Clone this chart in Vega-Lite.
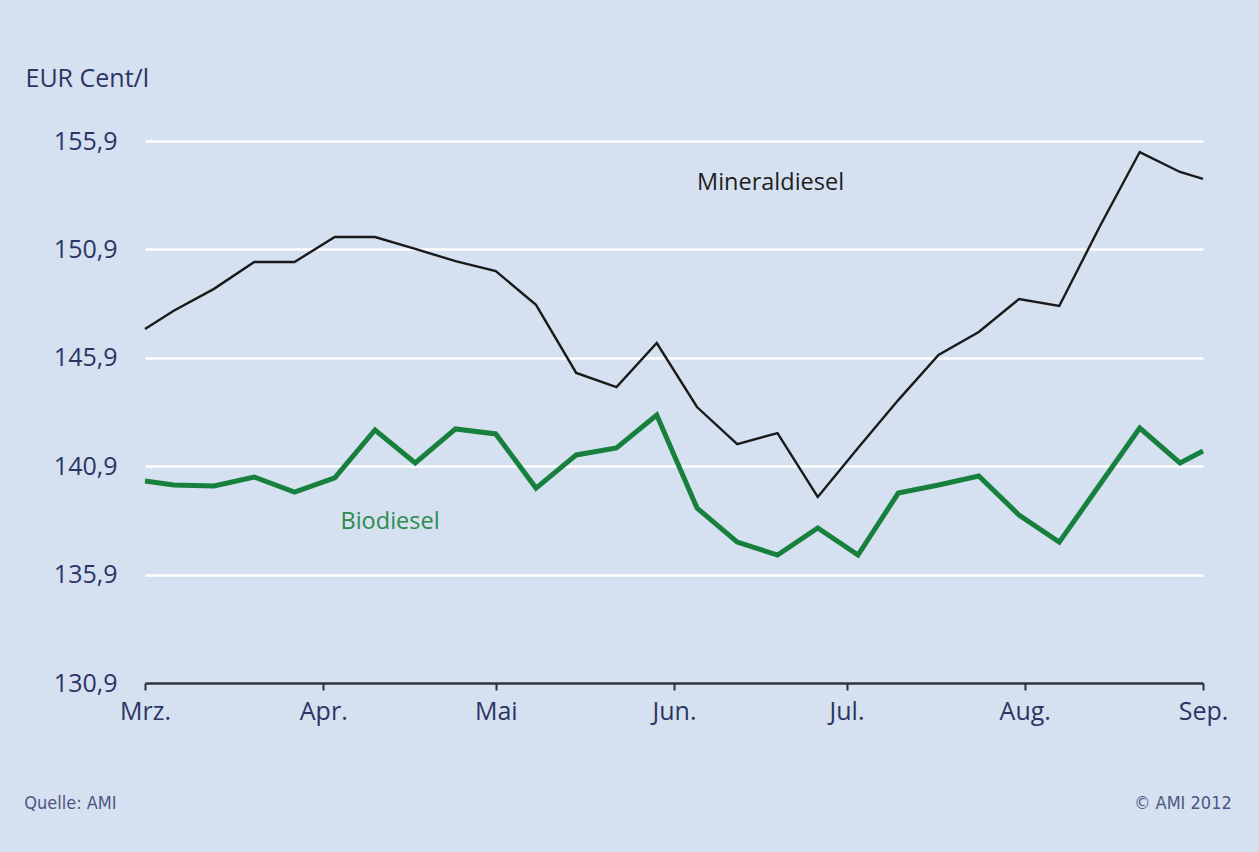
{
  "$schema": "https://vega.github.io/schema/vega-lite/v6.json",
  "width": 1058,
  "height": 542,
  "autosize": {"type": "none"},
  "padding": {"left": 145, "top": 141, "right": 56, "bottom": 169},
  "background": "#d5e1f0",
  "config": {
    "view": {"stroke": null},
    "font": "Open Sans",
    "axis": {"labelFont": "Open Sans", "titleFont": "Open Sans"}
  },
  "data": {
    "values": [
      {"date": "2012-03-01", "series": "Mineraldiesel", "value": 147.23},
      {"date": "2012-03-06", "series": "Mineraldiesel", "value": 148.07},
      {"date": "2012-03-13", "series": "Mineraldiesel", "value": 149.08},
      {"date": "2012-03-20", "series": "Mineraldiesel", "value": 150.32},
      {"date": "2012-03-27", "series": "Mineraldiesel", "value": 150.32},
      {"date": "2012-04-03", "series": "Mineraldiesel", "value": 151.47},
      {"date": "2012-04-10", "series": "Mineraldiesel", "value": 151.47},
      {"date": "2012-04-17", "series": "Mineraldiesel", "value": 150.92},
      {"date": "2012-04-24", "series": "Mineraldiesel", "value": 150.36},
      {"date": "2012-05-01", "series": "Mineraldiesel", "value": 149.9},
      {"date": "2012-05-08", "series": "Mineraldiesel", "value": 148.34},
      {"date": "2012-05-15", "series": "Mineraldiesel", "value": 145.2},
      {"date": "2012-05-22", "series": "Mineraldiesel", "value": 144.55},
      {"date": "2012-05-29", "series": "Mineraldiesel", "value": 146.58},
      {"date": "2012-06-05", "series": "Mineraldiesel", "value": 143.63},
      {"date": "2012-06-12", "series": "Mineraldiesel", "value": 141.92},
      {"date": "2012-06-19", "series": "Mineraldiesel", "value": 142.43},
      {"date": "2012-06-26", "series": "Mineraldiesel", "value": 139.48},
      {"date": "2012-07-03", "series": "Mineraldiesel", "value": 141.74},
      {"date": "2012-07-10", "series": "Mineraldiesel", "value": 143.95},
      {"date": "2012-07-17", "series": "Mineraldiesel", "value": 146.03},
      {"date": "2012-07-24", "series": "Mineraldiesel", "value": 147.09},
      {"date": "2012-07-31", "series": "Mineraldiesel", "value": 148.61},
      {"date": "2012-08-07", "series": "Mineraldiesel", "value": 148.29},
      {"date": "2012-08-14", "series": "Mineraldiesel", "value": 151.93},
      {"date": "2012-08-21", "series": "Mineraldiesel", "value": 155.39},
      {"date": "2012-08-28", "series": "Mineraldiesel", "value": 154.47},
      {"date": "2012-09-01", "series": "Mineraldiesel", "value": 154.15},
      {"date": "2012-03-01", "series": "Biodiesel", "value": 140.22},
      {"date": "2012-03-06", "series": "Biodiesel", "value": 140.03},
      {"date": "2012-03-13", "series": "Biodiesel", "value": 139.99},
      {"date": "2012-03-20", "series": "Biodiesel", "value": 140.4},
      {"date": "2012-03-27", "series": "Biodiesel", "value": 139.71},
      {"date": "2012-04-03", "series": "Biodiesel", "value": 140.36},
      {"date": "2012-04-10", "series": "Biodiesel", "value": 142.57},
      {"date": "2012-04-17", "series": "Biodiesel", "value": 141.05},
      {"date": "2012-04-24", "series": "Biodiesel", "value": 142.62},
      {"date": "2012-05-01", "series": "Biodiesel", "value": 142.39},
      {"date": "2012-05-08", "series": "Biodiesel", "value": 139.89},
      {"date": "2012-05-15", "series": "Biodiesel", "value": 141.42},
      {"date": "2012-05-22", "series": "Biodiesel", "value": 141.74},
      {"date": "2012-05-29", "series": "Biodiesel", "value": 143.26},
      {"date": "2012-06-05", "series": "Biodiesel", "value": 138.97},
      {"date": "2012-06-12", "series": "Biodiesel", "value": 137.4},
      {"date": "2012-06-19", "series": "Biodiesel", "value": 136.8},
      {"date": "2012-06-26", "series": "Biodiesel", "value": 138.05},
      {"date": "2012-07-03", "series": "Biodiesel", "value": 136.8},
      {"date": "2012-07-10", "series": "Biodiesel", "value": 139.66},
      {"date": "2012-07-17", "series": "Biodiesel", "value": 140.03},
      {"date": "2012-07-24", "series": "Biodiesel", "value": 140.45},
      {"date": "2012-07-31", "series": "Biodiesel", "value": 138.65},
      {"date": "2012-08-07", "series": "Biodiesel", "value": 137.4},
      {"date": "2012-08-14", "series": "Biodiesel", "value": 140.03},
      {"date": "2012-08-21", "series": "Biodiesel", "value": 142.66},
      {"date": "2012-08-28", "series": "Biodiesel", "value": 141.05},
      {"date": "2012-09-01", "series": "Biodiesel", "value": 141.6}
    ]
  },
  "layer": [
    {
      "mark": {"type": "line", "strokeJoin": "miter", "strokeCap": "butt"},
      "encoding": {
        "x": {
          "field": "date",
          "type": "temporal",
          "scale": {
            "type": "utc",
            "domain": [
              {"year": 2012, "month": 3, "date": 1, "utc": true},
              {"year": 2012, "month": 9, "date": 1, "utc": true}
            ]
          },
          "axis": {
            "title": null,
            "values": [
              {"year": 2012, "month": 3, "date": 1, "utc": true},
              {"year": 2012, "month": 4, "date": 1, "utc": true},
              {"year": 2012, "month": 5, "date": 1, "utc": true},
              {"year": 2012, "month": 6, "date": 1, "utc": true},
              {"year": 2012, "month": 7, "date": 1, "utc": true},
              {"year": 2012, "month": 8, "date": 1, "utc": true},
              {"year": 2012, "month": 9, "date": 1, "utc": true}
            ],
            "labelExpr": "['Jan.','Feb.','Mrz.','Apr.','Mai','Jun.','Jul.','Aug.','Sep.','Okt.','Nov.','Dez.'][utcmonth(datum.value)]",
            "grid": false,
            "domainColor": "#2a2f3c",
            "domainWidth": 2.5,
            "tickColor": "#2a2f3c",
            "tickWidth": 2,
            "tickSize": 7,
            "labelColor": "#2c3563",
            "labelFontSize": 25,
            "labelPadding": 9,
            "labelBaseline": "top",
            "labelFlush": false,
            "labelOverlap": false
          }
        },
        "y": {
          "field": "value",
          "type": "quantitative",
          "scale": {"domain": [130.9, 155.9], "zero": false, "nice": false},
          "axis": {
            "title": "EUR Cent/l",
            "titleAngle": 0,
            "titleAlign": "left",
            "titleBaseline": "alphabetic",
            "titleX": -120,
            "titleY": -55,
            "titleFontSize": 25,
            "titleFontWeight": "normal",
            "titleColor": "#2c3563",
            "values": [130.9, 135.9, 140.9, 145.9, 150.9, 155.9],
            "labelExpr": "replace(format(datum.value, '.1f'), '.', ',')",
            "labelColor": "#2c3563",
            "labelFontSize": 25,
            "labelPadding": 28,
            "labelAlign": "right",
            "labelBaseline": "middle",
            "ticks": false,
            "domain": false,
            "grid": true,
            "gridColor": "#ffffff",
            "gridWidth": 2.5,
            "gridOpacity": 1
          }
        },
        "color": {
          "field": "series",
          "type": "nominal",
          "scale": {"domain": ["Mineraldiesel", "Biodiesel"], "range": ["#1a1a1a", "#17803d"]},
          "legend": null
        },
        "strokeWidth": {
          "field": "series",
          "type": "nominal",
          "scale": {"domain": ["Mineraldiesel", "Biodiesel"], "range": [2.4, 5]},
          "legend": null
        }
      }
    },
    {
      "data": {"values": [{"date": "2012-06-05", "value": 153.96, "label": "Mineraldiesel"}]},
      "mark": {"type": "text", "align": "left", "baseline": "middle", "fontSize": 23.5, "color": "#1e1e1e", "font": "Open Sans"},
      "encoding": {
        "x": {"field": "date", "type": "temporal"},
        "y": {"field": "value", "type": "quantitative"},
        "text": {"field": "label"}
      }
    },
    {
      "data": {"values": [{"date": "2012-04-04", "value": 138.33, "label": "Biodiesel"}]},
      "mark": {"type": "text", "align": "left", "baseline": "middle", "fontSize": 23.5, "color": "#2e8b4f", "font": "Open Sans"},
      "encoding": {
        "x": {"field": "date", "type": "temporal"},
        "y": {"field": "value", "type": "quantitative"},
        "text": {"field": "label"}
      }
    },
    {
      "data": {"values": [{"date": "2012-02-09", "value": 125.32, "label": "Quelle: AMI"}]},
      "mark": {"type": "text", "align": "left", "baseline": "middle", "fontSize": 18, "color": "#4d5683", "font": "DejaVu Sans Condensed, Open Sans, sans-serif"},
      "encoding": {
        "x": {"field": "date", "type": "temporal"},
        "y": {"field": "value", "type": "quantitative"},
        "text": {"field": "label"}
      }
    },
    {
      "data": {"values": [{"date": "2012-09-06", "value": 125.32, "label": "© AMI 2012"}]},
      "mark": {"type": "text", "align": "right", "baseline": "middle", "fontSize": 18, "color": "#4d5683", "font": "DejaVu Sans Condensed, Open Sans, sans-serif"},
      "encoding": {
        "x": {"field": "date", "type": "temporal"},
        "y": {"field": "value", "type": "quantitative"},
        "text": {"field": "label"}
      }
    }
  ]
}
